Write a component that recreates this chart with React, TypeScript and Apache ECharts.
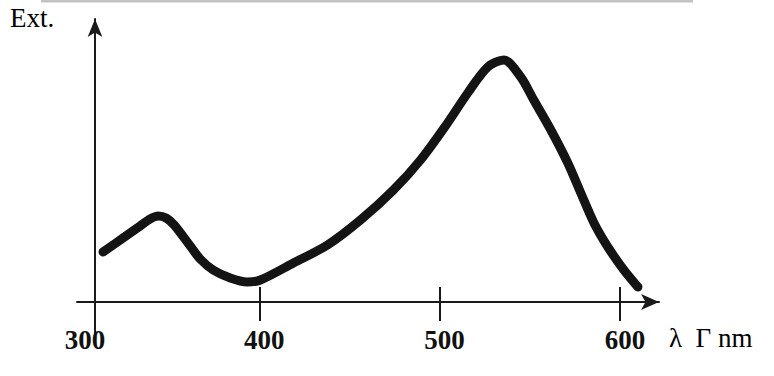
import React, { useEffect, useRef } from "react";
import * as echarts from "echarts";

// wavelength (nm) of each traced point of the curve
const wavelengths = [
  313.3, 324.4, 333.9, 339.4, 343.9, 348.3, 352.8, 361.7, 367.2, 374.4, 383.9,
  393.3, 400.6, 418.9, 437.8, 456.1, 474.4, 489.4, 504.4, 515.6, 526.7, 535.6,
  545.0, 552.2, 561.7, 571.1, 578.3, 585.6, 593.3, 602.2, 610.0,
];
// extinction (arbitrary units) at those wavelengths
const extinction = [
  50, 64, 76, 83, 86, 84, 77, 56, 43, 32, 24, 20, 22, 39, 57, 82, 112, 142, 179,
  209, 235, 242, 225, 202, 172, 139, 109, 79, 55, 32, 15,
];
const tickValues = [400, 500, 600];
const firstLabelValue = 308.89; // where the Ext. axis crosses, labelled "300"
const firstLabelText = "300";
const yName = "Ext.";
const xName = "λ  Γ nm";

export default function App() {
  const ref = useRef<HTMLDivElement>(null);
  useEffect(() => {
    if (!ref.current) return;
    const chart = echarts.init(ref.current, null, { renderer: "svg" });
    const data = wavelengths.map((w, i) => [w, extinction[i]]);
    const font = "'Liberation Serif', 'Times New Roman', serif";
    const axisColor = "#1a1a1a";
    const xMin = 298.89;
    const xMax = 621.67;
    const gridBox = {
      left: 77,
      right: 774 - 659,
      top: 19,
      bottom: 31,
      containLabel: false,
      outerBoundsMode: "none",
    };
    chart.setOption({
      animation: false,
      backgroundColor: "#ffffff",
      grid: [gridBox, { ...gridBox }],
      xAxis: [
        {
          type: "value",
          gridIndex: 0,
          min: xMin,
          max: xMax,
          position: "bottom",
          splitLine: { show: false },
          axisLine: {
            show: true,
            onZero: true,
            symbol: ["none", "arrow"],
            symbolSize: [12, 18],
            lineStyle: { color: axisColor, width: 2 },
          },
          axisTick: {
            show: true,
            customValues: tickValues,
            length: 19,
            lineStyle: { color: axisColor, width: 2 },
          },
          axisLabel: {
            show: true,
            customValues: [firstLabelValue, ...tickValues],
            margin: -19,
            formatter: (v: number) =>
              v < 350 ? "{a|" + firstLabelText + "}" : "{b|" + Math.round(v) + "}",
            rich: {
              a: { fontFamily: font, fontSize: 27, fontWeight: "bold", color: "#111", padding: [0, 20, 0, 0] },
              b: { fontFamily: font, fontSize: 27, fontWeight: "bold", color: "#111", padding: [0, 0, 0, 10] },
            },
          },
        },
        {
          type: "value",
          gridIndex: 1,
          min: xMin,
          max: xMax,
          position: "bottom",
          splitLine: { show: false },
          axisLine: { show: false, onZero: true },
          axisLabel: { show: false },
          axisTick: {
            show: true,
            inside: true,
            customValues: tickValues,
            length: 15,
            lineStyle: { color: axisColor, width: 2 },
          },
        },
      ],
      yAxis: [
        {
          type: "value",
          gridIndex: 0,
          min: -43,
          max: 283,
          offset: -18,
          splitLine: { show: false },
          axisTick: { show: false },
          axisLabel: { show: false },
          axisLine: {
            show: true,
            symbol: ["none", "arrow"],
            symbolSize: [11, 18],
            lineStyle: { color: axisColor, width: 2 },
          },
        },
        {
          type: "value",
          gridIndex: 1,
          min: -43,
          max: 283,
          splitLine: { show: false },
          axisTick: { show: false },
          axisLabel: { show: false },
          axisLine: { show: false },
        },
      ],
      graphic: [
        {
          type: "rect",
          shape: { x: 41, y: 0, width: 652, height: 2.5 },
          style: { fill: "#c3c3c3" },
        },
        {
          type: "text",
          x: 10,
          y: 4,
          style: { text: yName, font: "27px " + font, fill: "#000", textVerticalAlign: "top" },
        },
        {
          type: "text",
          x: 669,
          y: 324,
          style: { text: xName, font: "27px " + font, fill: "#000", textVerticalAlign: "top" },
        },
      ],
      series: [
        {
          type: "line",
          xAxisIndex: 0,
          yAxisIndex: 0,
          data,
          smooth: 0.3,
          symbol: "none",
          lineStyle: { color: "#141414", width: 9, cap: "round", join: "round" },
        },
      ],
    });
    return () => chart.dispose();
  }, []);
  return (
    <div
      ref={ref}
      style={{ position: "fixed", left: 0, top: 0, width: 774, height: 376 }}
    />
  );
}
